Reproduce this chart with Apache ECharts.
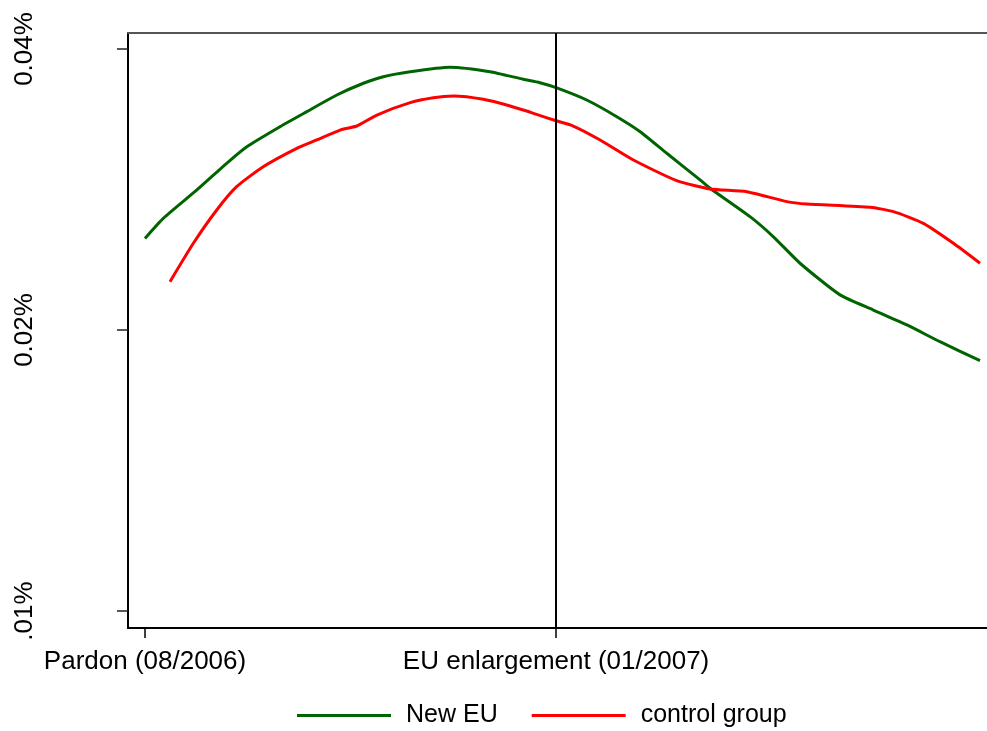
<!DOCTYPE html>
<html>
<head>
<meta charset="utf-8">
<script src="https://cdn.jsdelivr.net/npm/echarts@6/dist/echarts.min.js"></script>
<style>
html, body { margin: 0; padding: 0; background: #fff; }
#main { width: 987px; height: 731px; }
</style>
</head>
<body>
<div id="main"></div>
<script>
// days since the pardon (08/2006); EU enlargement is 01/2007 = day 153
const greenDays = [0, 6.8, 19.3, 30.4, 37.9, 50.3, 60.2, 71.4, 81.3, 88.7, 98.7, 113.5, 128.4, 140.8, 147.0, 153.0,
  164.4, 175.6, 184.3, 194.2, 206.6, 210.3, 225.2, 233.9, 243.8, 258.7, 271.1, 283.6, 295.9, 310.8];
// share, in percent
const greenVals = [0.02507, 0.02634, 0.02825, 0.03017, 0.03143, 0.03303, 0.03427, 0.03571, 0.03676, 0.03736, 0.03782,
  0.03824, 0.03782, 0.03712, 0.03681, 0.03636, 0.03527, 0.03385, 0.03262, 0.03093, 0.02896, 0.02837, 0.02645, 0.02517,
  0.02358, 0.02181, 0.02101, 0.02025, 0.01943, 0.01854];

const redDays = [9.3, 18.0, 26.7, 34.1, 44.0, 56.5, 63.9, 72.6, 78.8, 86.3, 98.7, 107.3, 114.8, 125.9, 135.9, 144.6,
  153.0, 159.4, 169.4, 181.8, 197.9, 210.3, 224.0, 238.9, 246.3, 269.9, 278.6, 289.7, 300.9, 310.8];
const redVals = [0.02253, 0.02477, 0.02689, 0.02848, 0.02992, 0.03131, 0.03196, 0.03275, 0.03308, 0.03399, 0.03504,
  0.03547, 0.03562, 0.03533, 0.03475, 0.03413, 0.03351, 0.03308, 0.03196, 0.03042, 0.02891, 0.02832, 0.02813,
  0.02745, 0.02729, 0.02707, 0.02678, 0.02602, 0.02477, 0.02358];

const xTickDays = [0, 153];
const xTickLabels = ['Pardon (08/2006)', 'EU enlargement (01/2007)'];
const yTickVals = [0.01, 0.02, 0.04];
const yTickLabels = ['.01%', '0.02%', '0.04%'];

// log2 scale relative to 0.01%
const toLog = v => Math.log2(v / 0.01);
const pairs = (xs, ys) => xs.map((x, i) => [x, toLog(ys[i])]);
const yTickPos = yTickVals.map(toLog);

const font = 'Liberation Sans, Arial, sans-serif';

const chart = echarts.init(document.getElementById('main'));
chart.setOption({
  animation: false,
  grid: { left: 128, right: 0, top: 33, bottom: 103 },
  legend: {
    left: 292,
    top: 698,
    icon: 'rect',
    itemWidth: 94,
    itemHeight: 3,
    itemGap: 34,
    textStyle: { fontFamily: font, fontSize: 25, color: '#000', padding: [0, 0, 0, 10] },
    data: ['New EU', 'control group']
  },
  xAxis: [{
    type: 'value',
    min: -6.33,
    max: 313.4,
    axisLine: { onZero: false, lineStyle: { color: '#000', width: 2 } },
    axisTick: { customValues: xTickDays, length: 10, lineStyle: { color: '#000', width: 1.5 } },
    axisLabel: {
      customValues: xTickDays,
      margin: 21,
      fontFamily: font,
      fontSize: 26,
      color: '#000',
      formatter: v => xTickLabels[xTickDays.indexOf(v)]
    },
    splitLine: { show: false }
  }, {
    type: 'value',
    position: 'top',
    min: -6.33,
    max: 313.4,
    axisLine: { onZero: false, lineStyle: { color: '#555', width: 2 } },
    axisTick: { show: false },
    axisLabel: { show: false },
    splitLine: { show: false }
  }],
  yAxis: {
    type: 'value',
    min: -17 / 281,
    max: 578 / 281,
    axisLine: { show: true, onZero: false, lineStyle: { color: '#000', width: 2 } },
    axisTick: { show: true, customValues: yTickPos, length: 11, lineStyle: { color: '#222', width: 1.5 } },
    axisLabel: {
      customValues: yTickPos,
      rotate: 90,
      margin: 90,
      fontFamily: font,
      fontSize: 26,
      color: '#000',
      formatter: v => yTickLabels[Math.round(v)]
    },
    splitLine: { show: false }
  },
  series: [{
    name: 'New EU',
    type: 'line',
    data: pairs(greenDays, greenVals),
    showSymbol: false,
    smooth: 0.2,
    color: '#006400',
    lineStyle: { width: 3, color: '#006400' },
    markLine: {
      silent: true,
      symbol: 'none',
      label: { show: false },
      lineStyle: { color: '#000', width: 2, type: 'solid' },
      data: [{ xAxis: 153 }]
    }
  }, {
    name: 'control group',
    type: 'line',
    data: pairs(redDays, redVals),
    showSymbol: false,
    smooth: 0.2,
    color: '#ff0000',
    lineStyle: { width: 3, color: '#ff0000' }
  }]
});
</script>
</body>
</html>
